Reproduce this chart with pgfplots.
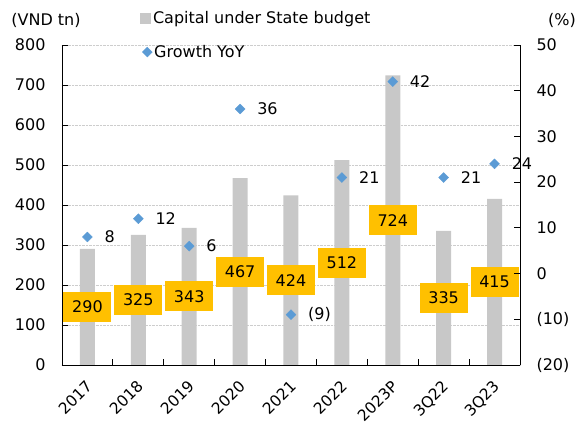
\documentclass[border=0pt]{standalone}
\usepackage{pgfplots}
\pgfplotsset{compat=1.18}
\usepackage{pgfplotstable}
\usepackage{fontspec}
\setmainfont{DejaVu Sans}
\definecolor{barg}{RGB}{200,200,200}
\definecolor{ylw}{RGB}{255,192,0}
\definecolor{blu}{RGB}{91,155,213}
\definecolor{gridc}{RGB}{205,205,205}

\pgfplotstableread{
x v h lab
0 290 145 290
1 325 162.5 325
2 343 171.5 343
3 467 233.5 467
4 424 212 424
5 512 256 512
6 724 362 724
7 335 167.5 335
8 415 207.5 415
}\capital

\pgfplotstableread{
x g lab
0 8 8
1 12 12
2 6 6
3 36 36
4 -9 (9)
5 21 21
6 42 42
7 21 21
8 24 24
}\growth

\begin{document}
\begin{tikzpicture}[font=\fontsize{16}{19}\selectfont]
\useasboundingbox (-62pt,-62pt) rectangle (522pt,365pt);
\begin{axis}[
  scale only axis, width=458pt, height=320pt,
  xmin=-0.5, xmax=8.5, ymin=0, ymax=800,
  ytick={0,100,...,800},
  minor ytick={0,100,...,800},
  xtick={0,1,...,8},
  xticklabels={2017,2018,2019,2020,2021,2022,2023P,3Q22,3Q23},
  minor xtick={0.5,1.5,...,7.5},
  major tick length=0pt,
  minor tick length=6pt,
  tick align=inside,
  axis x line*=bottom, axis y line*=left,
  axis line style={-, black, line width=0.8pt},
  tick style={black, line width=0.8pt},
  ymajorgrids, major grid style={densely dotted, gridc, line width=0.8pt},
  xticklabel style={xshift=-2pt, yshift=-13pt, rotate=45, anchor=north east, inner sep=1pt,
    font=\fontsize{15.5}{18}\selectfont},
  yticklabel style={xshift=-13pt},
  /pgf/number format/assume math mode=true,
  clip=false,
  legend style={at={(0.17,1.084)}, anchor=west, draw=none, fill=none, inner sep=0pt,
    nodes={inner sep=2pt}, font=\fontsize{16}{19}\selectfont},
]
\addplot[ybar, bar width=15pt, fill=barg, draw=none,
  legend image code/.code={\fill[barg] (0pt,-5.5pt) rectangle (11pt,5.5pt);}]
  table[x=x, y=v]{\capital};
\addlegendentry{Capital under State budget}
\addplot[forget plot, only marks, mark=none, point meta=explicit symbolic,
  nodes near coords,
  nodes near coords style={fill=ylw, anchor=center, minimum width=48pt,
    minimum height=30pt, inner sep=0pt, text=black}]
  table[x=x, y=h, meta=lab]{\capital};
\end{axis}
\begin{axis}[
  scale only axis, width=458pt, height=320pt,
  xmin=-0.5, xmax=8.5, ymin=-20, ymax=50,
  axis y line*=right, axis x line=none,
  ytick={-20,-10,...,50},
  yticklabels={(20),(10),0,10,20,30,40,50},
  major tick length=6pt,
  tick align=inside,
  axis line style={-, black, line width=0.8pt},
  tick style={black, line width=0.8pt},
  yticklabel style={xshift=13pt},
  clip=false,
  legend style={at={(0.175,0.978)}, anchor=west, draw=none, fill=none, inner sep=0pt,
    nodes={inner sep=2pt}, font=\fontsize{16}{19}\selectfont},
]
\addplot[only marks, mark=square*, mark size=3.5pt,
  mark options={rotate=45, fill=blu, draw=blu},
  point meta=explicit symbolic, nodes near coords,
  nodes near coords style={anchor=west, xshift=17pt, inner sep=0pt, text=black},
  legend image code/.code={\draw[mark=square*, mark size=3.5pt,
    mark options={rotate=45, fill=blu, draw=blu}] plot coordinates {(5pt,0pt)};}]
  table[x=x, y=g, meta=lab]{\growth};
\addlegendentry{Growth YoY}
\end{axis}
\node at (-16pt,345pt) {(VND tn)};
\node at (500pt,345pt) {(\%)};
\end{tikzpicture}
\end{document}
